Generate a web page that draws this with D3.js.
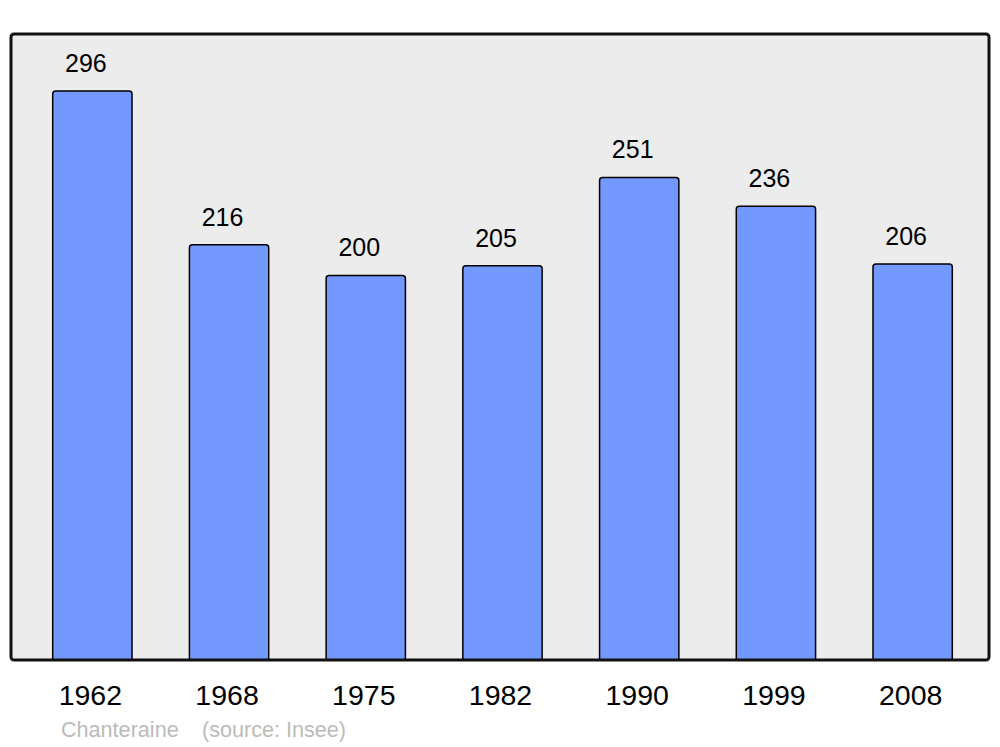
<!DOCTYPE html>
<html>
<head>
<meta charset="utf-8">
<script src="https://cdn.jsdelivr.net/npm/d3@7"></script>
<style>
  body { margin: 0; background: #fff; }
  svg { display: block; font-family: "Liberation Sans", Arial, sans-serif; }
</style>
</head>
<body>
<svg id="chart"></svg>
<script>
let width = 1000;
let height = 747;

// population par recensement
let years = ['1962', '1968', '1975', '1982', '1990', '1999', '2008'];
let population = [296, 216, 200, 205, 251, 236, 206];
let commune = 'Chanteraine';
let source = '(source: Insee)';

const panel = { left: 11, top: 34, right: 989, bottom: 660 };

const svg = d3.select("#chart")
    .attr("width", width)
    .attr("height", height);

const x = d3.scaleBand()
    .domain(years)
    .range([24, 981])
    .paddingInner(0.42)
    .paddingOuter(0.21);

const y = d3.scaleLinear()
    .domain([0, d3.max(population) * 1.1])
    .range([panel.bottom, panel.top]);

// fond gris
svg.append("rect")
    .attr("x", panel.left)
    .attr("y", panel.top)
    .attr("width", panel.right - panel.left)
    .attr("height", panel.bottom - panel.top)
    .attr("rx", 3)
    .attr("fill", "#ececec");

// barres avec coins arrondis en haut
function barPath(x0, y0, w, h, r) {
    return `M${x0},${y0 + h}V${y0 + r}Q${x0},${y0} ${x0 + r},${y0}H${x0 + w - r}Q${x0 + w},${y0} ${x0 + w},${y0 + r}V${y0 + h}`;
}

const data = years.map((d, i) => ({ year: d, value: population[i] }));

svg.append("g")
    .selectAll("path")
    .data(data)
    .join("path")
    .attr("d", d => barPath(x(d.year), y(d.value), x.bandwidth(), y(0) - y(d.value), 3))
    .attr("fill", "#7399ff")
    .attr("stroke", "#000")
    .attr("stroke-width", 1.5);

svg.append("g")
    .attr("font-size", 25)
    .attr("text-anchor", "middle")
    .selectAll("text")
    .data(data)
    .join("text")
    .attr("x", d => x(d.year) + x.bandwidth() / 2 - 6.5)
    .attr("y", d => y(d.value) - 19)
    .text(d => d.value);

// cadre
svg.append("rect")
    .attr("x", panel.left)
    .attr("y", panel.top)
    .attr("width", panel.right - panel.left)
    .attr("height", panel.bottom - panel.top)
    .attr("rx", 3)
    .attr("fill", "none")
    .attr("stroke", "#111")
    .attr("stroke-width", 3);

svg.append("g")
    .attr("font-size", 28.5)
    .attr("text-anchor", "middle")
    .selectAll("text")
    .data(years)
    .join("text")
    .attr("x", d => x(d) + x.bandwidth() / 2 - 2)
    .attr("y", 705)
    .text(d => d);

svg.append("text")
    .attr("x", 61)
    .attr("y", 737)
    .attr("font-size", 21.6)
    .attr("fill", "#bbbbbb")
    .text(commune);

svg.append("text")
    .attr("x", 202)
    .attr("y", 737)
    .attr("font-size", 21.6)
    .attr("fill", "#bbbbbb")
    .text(source);
</script>
</body>
</html>
